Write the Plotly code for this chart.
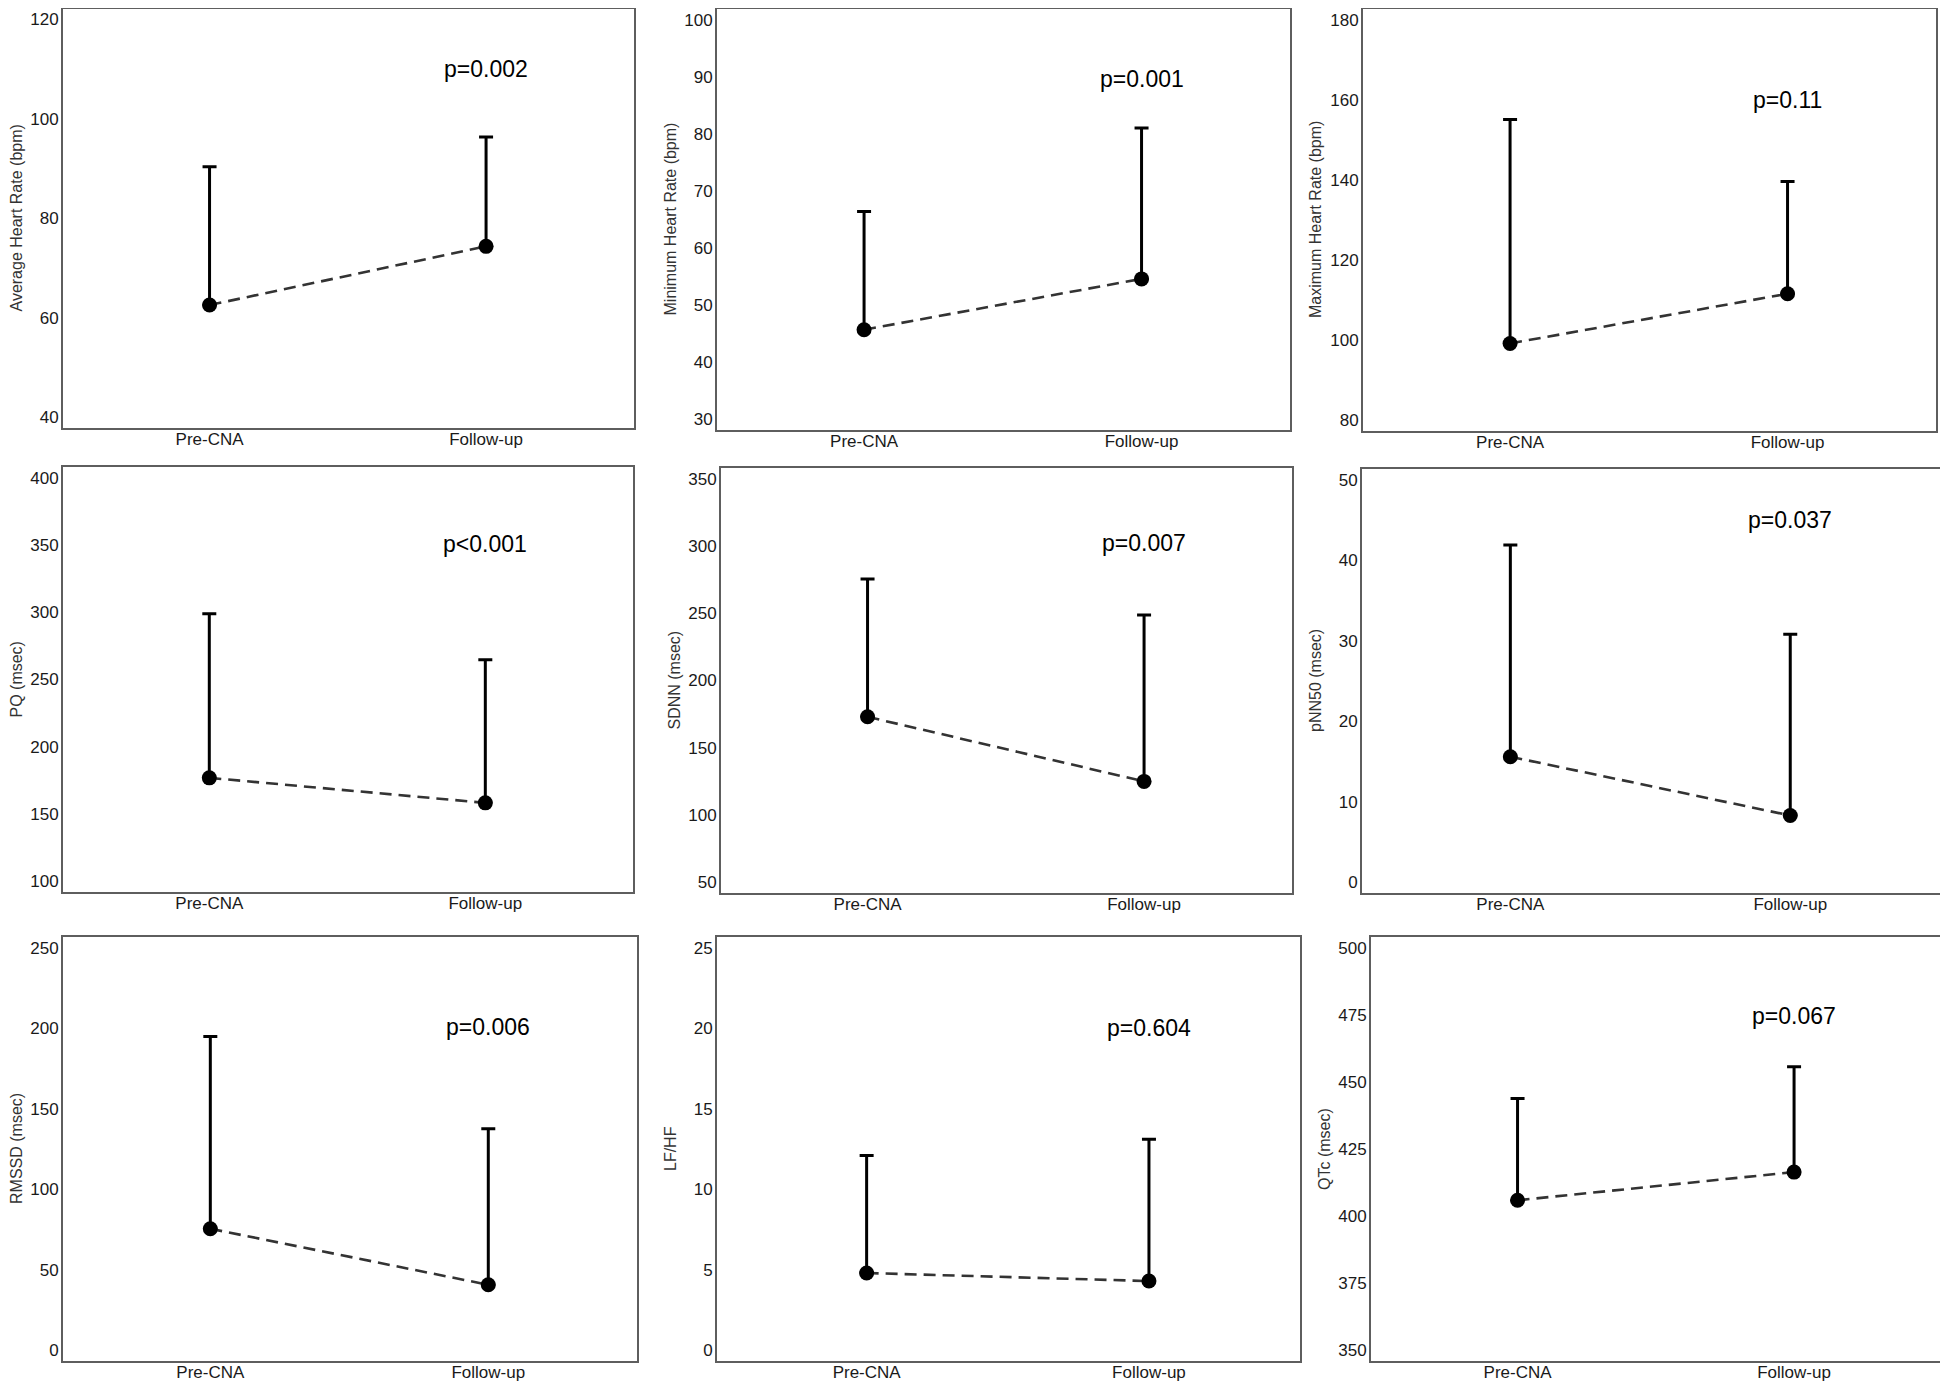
import plotly.graph_objects as go

# ---------------- data ----------------
categories = ["Pre-CNA", "Follow-up"]

y_titles = [
    "Average Heart Rate (bpm)", "Minimum Heart Rate (bpm)", "Maximum Heart Rate (bpm)",
    "PQ (msec)", "SDNN (msec)", "pNN50 (msec)",
    "RMSSD (msec)", "LF/HF", "QTc (msec)",
]

mean_pre = [62.6, 45.7, 99.2, 176.9, 173.0, 15.6, 75.5, 4.8, 405.9]
mean_follow = [74.4, 54.6, 111.6, 158.3, 125.0, 8.3, 40.7, 4.3, 416.4]
upper_pre = [90.4, 66.4, 155.1, 298.8, 275.5, 41.9, 194.8, 12.1, 443.8]
upper_follow = [96.4, 81.0, 139.6, 264.6, 248.7, 30.8, 137.6, 13.1, 455.6]

p_labels = ["p=0.002", "p=0.001", "p=0.11", "p<0.001", "p=0.007",
            "p=0.037", "p=0.006", "p=0.604", "p=0.067"]
p_label_y = [110.1, 89.6, 160.0, 351.0, 302.0, 45.0, 201.0, 20.0, 474.6]

tick_values = [
    [40, 60, 80, 100, 120],
    [30, 40, 50, 60, 70, 80, 90, 100],
    [80, 100, 120, 140, 160, 180],
    [100, 150, 200, 250, 300, 350, 400],
    [50, 100, 150, 200, 250, 300, 350],
    [0, 10, 20, 30, 40, 50],
    [0, 50, 100, 150, 200, 250],
    [0, 5, 10, 15, 20, 25],
    [350, 375, 400, 425, 450, 475, 500],
]

# ---------------- layout geometry (pixels in the target picture) ----------------
OFF = 8  # page body margin of the browser
W, H = 1948 - OFF, 1385 - OFF
panel_px = [  # left, right, top, bottom
    (63, 634, 4, 428), (717, 1290, 4, 430), (1363, 1936, 6, 431),
    (63, 633, 467, 892), (721, 1292, 468, 893), (1362, 1940, 469, 893),
    (63, 637, 937, 1361), (717, 1300, 937, 1361), (1371, 1942, 937, 1361),
]


def clamp(v):
    return min(1.0, max(0.0, v))


font_family = "Liberation Sans, Arial, sans-serif"
fig = go.Figure()
layout = dict(
    width=W, height=H,
    margin=dict(l=0, r=0, t=0, b=0),
    paper_bgcolor="white", plot_bgcolor="white",
    showlegend=False,
    font=dict(family=font_family, color="#1a1a1a"),
)
annotations = []

for i in range(9):
    n = "" if i == 0 else str(i + 1)
    xa, ya = "x" + n, "y" + n
    L, R, T, B = [v - OFF for v in panel_px[i]]
    T = max(T, 1)

    pre_err = upper_pre[i] - mean_pre[i]
    fol_err = upper_follow[i] - mean_follow[i]

    fig.add_trace(go.Scatter(
        x=categories, y=[mean_pre[i], mean_follow[i]],
        xaxis=xa, yaxis=ya,
        mode="lines+markers",
        line=dict(color="#333333", width=2.6, dash="12px,7px"),
        marker=dict(color="black", size=15, symbol="circle"),
        error_y=dict(type="data", symmetric=False,
                     array=[pre_err, fol_err], arrayminus=[0, 0],
                     color="black", thickness=3, width=7),
        hoverinfo="x+y",
    ))

    tv = tick_values[i]
    span = tv[-1] - tv[0]
    pad = 0.0265 * span

    layout["xaxis" + n] = dict(
        domain=[clamp(L / W), clamp(R / W)], anchor=ya,
        type="category", range=[-0.53, 1.535],
        showgrid=False, zeroline=False,
        showline=True, mirror=True, linecolor="#5e5e5e", linewidth=2,
        ticks="", ticklabelstandoff=-5,
        tickfont=dict(size=17, color="#1a1a1a"),
        automargin=False, fixedrange=True,
    )
    layout["yaxis" + n] = dict(
        domain=[clamp(1 - B / H), clamp(1 - T / H)], anchor=xa,
        range=[tv[0] - pad, tv[-1] + pad],
        tickvals=tv, ticktext=[str(v) for v in tv],
        showgrid=False, zeroline=False,
        showline=True, mirror=True, linecolor="#5e5e5e", linewidth=2,
        ticks="", ticklabelstandoff=-1,
        tickfont=dict(size=17, color="#1a1a1a"),
        automargin=False, fixedrange=True,
    )

    annotations.append(dict(
        text=y_titles[i], xref="paper", yref="paper",
        x=clamp((L - 47) / W), y=1 - (T + B) / 2 / H,
        textangle=-90, showarrow=False,
        xanchor="center", yanchor="middle",
        font=dict(size=16, color="#333333", family=font_family),
    ))
    annotations.append(dict(
        text=p_labels[i], xref=xa, yref=ya,
        x="Follow-up", y=p_label_y[i],
        showarrow=False, xanchor="center", yanchor="middle",
        font=dict(size=23, color="black", family=font_family),
    ))

layout["annotations"] = annotations
fig.update_layout(**layout)
fig.write_html("out.html")
